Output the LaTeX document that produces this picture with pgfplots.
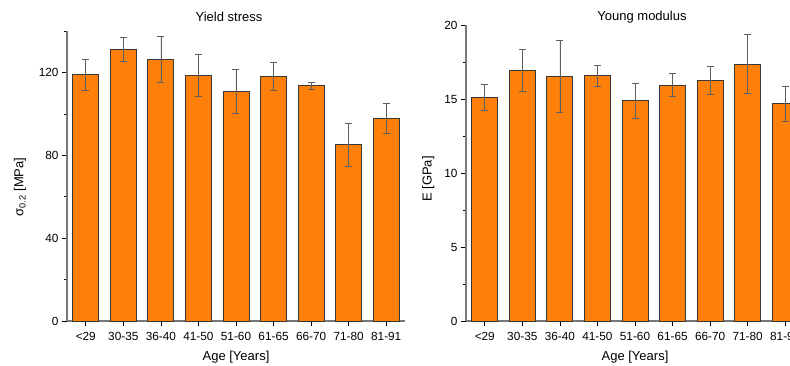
\documentclass[border=0pt]{standalone}
\usepackage{pgfplots}
\pgfplotsset{compat=1.18}
\usepackage{fontspec}
\setmainfont{Liberation Sans}

\definecolor{barorange}{RGB}{255,128,8}
\definecolor{baredge}{RGB}{55,55,55}
\definecolor{errgray}{RGB}{95,95,95}
\definecolor{spine}{RGB}{120,120,120}

\pgfplotsset{
  agebars/.style={
    scale only axis,
    width=338pt,
    xmin=-0.5, xmax=8.5,
    ymin=0,
    axis lines=left,
    axis line style={-, spine, line width=1.4pt},
    tick align=outside,
    tick style={black, line width=0.6pt},
    major tick length=5pt,
    minor tick length=3pt,
    xtick={0,...,8},
    xticklabels={<29,30-35,36-40,41-50,51-60,61-65,66-70,71-80,81-91},
    minor xtick={},
    tick label style={font=\fontsize{11.8}{14}\selectfont},
    xticklabel style={yshift=-3pt},
    label style={font=\fontsize{13}{15}\selectfont},
    title style={font=\fontsize{13}{15}\selectfont},
    /pgf/number format/assume math mode=true,
    xlabel={Age [Years]},
    xlabel style={yshift=-3pt},
    ybar, bar width=26pt,
  },
  agebar plot/.style={
    fill=barorange, draw=baredge, line width=0.8pt,
    error bars/.cd, y dir=both, y explicit,
    error bar style={errgray, line width=0.6pt},
    error mark options={rotate=90, mark size=3.5pt, errgray, line width=0.6pt},
  },
}

\begin{document}
\begin{tikzpicture}
\useasboundingbox (0pt,0pt) rectangle (790pt,365pt);
\clip (0pt,0pt) rectangle (790pt,365pt);

% Yield stress by age group
\begin{axis}[agebars,
  at={(67pt,44pt)}, anchor=south west,
  height=290pt,
  ymax=140,
  ytick={0,40,80,120},
  minor ytick={20,60,100,140},
  title={Yield stress},
  title style={xshift=-7pt},
  ylabel={σ\textsubscript{0.2} [MPa]},
  ylabel style={at={(axis description cs:-0.139,0.462)}, anchor=center},
]
\addplot[agebar plot] coordinates {
  (0,119.0) +- (0,7.5)
  (1,131.2) +- (0,6.0)
  (2,126.4) +- (0,11.0)
  (3,118.7) +- (0,10.0)
  (4,110.8) +- (0,10.6)
  (5,118.0) +- (0,6.8)
  (6,113.5) +- (0,1.5)
  (7,85.2)  +- (0,10.3)
  (8,97.9)  +- (0,7.3)
};
\end{axis}

% Young modulus by age group
\begin{axis}[agebars,
  at={(466pt,44pt)}, anchor=south west,
  height=295.7pt,
  ymax=20,
  ytick={0,5,10,15,20},
  minor ytick={2.5,7.5,12.5,17.5},
  title={Young modulus},
  title style={xshift=7pt, yshift=-7pt},
  ylabel={E [GPa]},
  ylabel style={at={(axis description cs:-0.112,0.48)}, anchor=center},
]
\addplot[agebar plot] coordinates {
  (0,15.11) +- (0,0.87)
  (1,16.96) +- (0,1.41)
  (2,16.56) +- (0,2.43)
  (3,16.58) +- (0,0.70)
  (4,14.89) +- (0,1.19)
  (5,15.95) +- (0,0.77)
  (6,16.28) +- (0,0.94)
  (7,17.37) +- (0,2.00)
  (8,14.70) +- (0,1.17)
};
\end{axis}
\end{tikzpicture}
\end{document}
